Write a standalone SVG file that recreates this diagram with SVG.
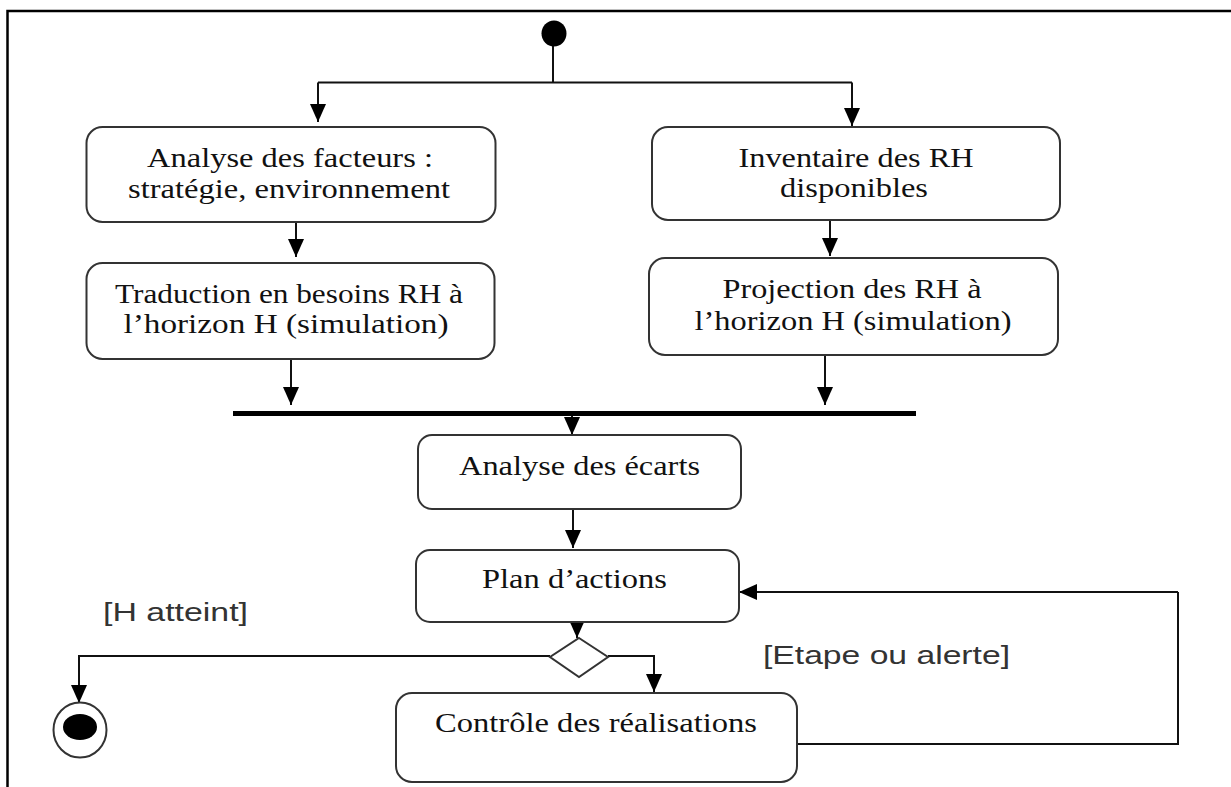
<svg xmlns="http://www.w3.org/2000/svg" width="1231" height="787" viewBox="0 0 1231 787">
  <defs>
    <marker id="arrow" viewBox="0 0 18 16" refX="18" refY="8" markerWidth="18" markerHeight="16" markerUnits="userSpaceOnUse" orient="auto">
      <path d="M0,0 L18,8 L0,16 z" fill="#000"/>
    </marker>
    <style>
      .box { fill: #fff; stroke: #333; stroke-width: 2; }
      .lbl { font-family: "Liberation Serif", "Times New Roman", serif; font-size: 27px; fill: #111; }
      .guard { font-family: "Liberation Sans", Arial, sans-serif; font-size: 26px; fill: #333; }
      .wire { fill: none; stroke: #111; stroke-width: 2; }
      .wire-a { fill: none; stroke: #111; stroke-width: 2; marker-end: url(#arrow); }
    </style>
  </defs>

  <rect width="1231" height="787" fill="#fff"/>

  <!-- outer frame (top and left edges) -->
  <path d="M7.5,787 V11 H1231" fill="none" stroke="#000" stroke-width="2.5"/>

  <!-- connectors -->
  <g id="connectors">
    <path class="wire" d="M553,46 V82.5"/>
    <path class="wire" d="M318,82.5 H852"/>
    <path class="wire-a" d="M318,82.5 V122"/>
    <path class="wire-a" d="M852,82.5 V126"/>
    <path class="wire-a" d="M296,222 V257"/>
    <path class="wire-a" d="M830,220 V256"/>
    <path class="wire-a" d="M291,359 V405"/>
    <path class="wire-a" d="M825,355 V405"/>
    <path class="wire-a" d="M572,416 V435"/>
    <path class="wire-a" d="M573,509 V548"/>
    <path class="wire-a" d="M577,622 V638"/>
    <path class="wire-a" d="M550,656 H79 V703"/>
    <path class="wire-a" d="M608,656 H654 V692"/>
    <path class="wire" d="M790,744 H1178 V592"/>
    <path class="wire-a" d="M1178,592 H739"/>
  </g>

  <!-- start node -->
  <g id="start">
    <ellipse cx="554" cy="33.5" rx="12.5" ry="13" fill="#000"/>
  </g>

  <g id="analyse-facteurs">
    <rect class="box" x="86.5" y="127" width="409" height="95" rx="16"/>
    <text class="lbl" x="290" y="167" text-anchor="middle" textLength="286" lengthAdjust="spacingAndGlyphs">Analyse des facteurs :</text>
    <text class="lbl" x="289" y="198" text-anchor="middle" textLength="322" lengthAdjust="spacingAndGlyphs">stratégie, environnement</text>
  </g>

  <g id="inventaire">
    <rect class="box" x="652" y="127" width="408" height="93" rx="16"/>
    <text class="lbl" x="856" y="167" text-anchor="middle" textLength="235" lengthAdjust="spacingAndGlyphs">Inventaire des RH</text>
    <text class="lbl" x="854" y="197" text-anchor="middle" textLength="148" lengthAdjust="spacingAndGlyphs">disponibles</text>
  </g>

  <g id="traduction">
    <rect class="box" x="86.5" y="263" width="408" height="96" rx="16"/>
    <text class="lbl" x="289" y="303" text-anchor="middle" textLength="348" lengthAdjust="spacingAndGlyphs">Traduction en besoins RH à</text>
    <text class="lbl" x="286" y="333" text-anchor="middle" textLength="325" lengthAdjust="spacingAndGlyphs">l’horizon H (simulation)</text>
  </g>

  <g id="projection">
    <rect class="box" x="649" y="258" width="409" height="97" rx="16"/>
    <text class="lbl" x="852" y="298" text-anchor="middle" textLength="259" lengthAdjust="spacingAndGlyphs">Projection des RH à</text>
    <text class="lbl" x="853" y="330" text-anchor="middle" textLength="317" lengthAdjust="spacingAndGlyphs">l’horizon H (simulation)</text>
  </g>

  <!-- join bar -->
  <g id="join">
    <rect x="233" y="411" width="683" height="5" fill="#000"/>
  </g>

  <g id="analyse-ecarts">
    <rect class="box" x="418" y="435" width="323" height="74" rx="14"/>
    <text class="lbl" x="579.5" y="475" text-anchor="middle" textLength="241" lengthAdjust="spacingAndGlyphs">Analyse des écarts</text>
  </g>

  <g id="plan-actions">
    <rect class="box" x="416" y="550" width="323" height="72" rx="14"/>
    <text class="lbl" x="574.5" y="588" text-anchor="middle" textLength="185" lengthAdjust="spacingAndGlyphs">Plan d’actions</text>
  </g>

  <!-- decision -->
  <g id="decision">
    <polygon points="579,638 608,657 579,677 550,657" fill="#fff" stroke="#333" stroke-width="2"/>
  </g>

  <g id="controle">
    <rect class="box" x="396" y="693" width="401" height="89" rx="16"/>
    <text class="lbl" x="596" y="732" text-anchor="middle" textLength="322" lengthAdjust="spacingAndGlyphs">Contrôle des réalisations</text>
  </g>

  <!-- final node -->
  <g id="end">
    <ellipse cx="80" cy="730" rx="26.5" ry="27.5" fill="#fff" stroke="#333" stroke-width="2"/>
    <ellipse cx="80" cy="727" rx="17" ry="13" fill="#000"/>
  </g>

  <!-- guard labels -->
  <g id="guards">
    <text class="guard" x="103" y="621" textLength="145" lengthAdjust="spacingAndGlyphs">[H atteint]</text>
    <text class="guard" x="763" y="664" textLength="247" lengthAdjust="spacingAndGlyphs">[Etape ou alerte]</text>
  </g>
</svg>
